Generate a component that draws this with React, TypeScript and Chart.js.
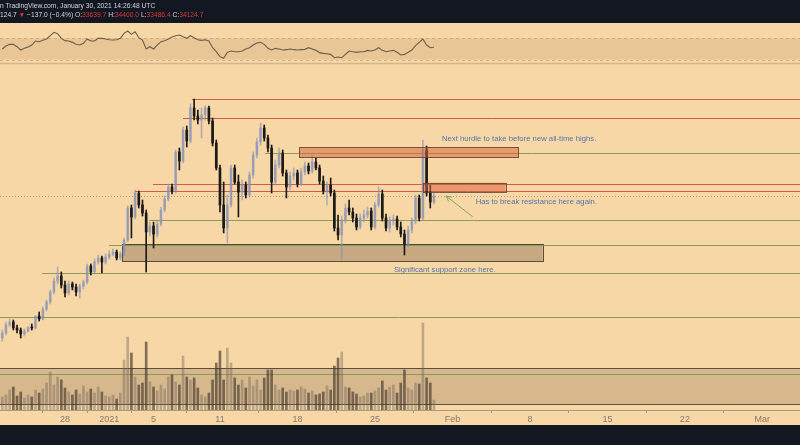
import React, { useEffect, useRef } from "react";
import { Chart, registerables } from "chart.js";

Chart.register(...registerables);

// ---- data: 8-hour bars, day offsets measured from 28 Dec 2020 ----
const FIRST_BAR_DAY = -17 / 3;
const BAR_STEP_DAYS = 1 / 3;

const OPEN = [
  22760, 23160, 23800, 24040, 23560, 23400, 23080, 23320, 23640, 23560, 24520, 24280, 25080, 25640, 26440, 27320, 27720,
  27000, 26360, 27080, 26840, 26440, 26920, 27240, 28520, 28040, 28840, 29160, 28840, 29240, 29480, 29640, 29160, 29480,
  30600, 33160, 32440, 34360, 33400, 32760, 31240, 31720, 31080, 31880, 33000, 33880, 34840, 34520, 37640, 36920, 39400,
  38520, 41160, 40520, 40200, 40600, 41160, 40120, 38360, 36360, 33400, 31560, 33400, 36360, 35240, 34440, 35000, 34200,
  35800, 37400, 38440, 39560, 38760, 37960, 35240, 36600, 37560, 35960, 34840, 35720, 35960, 35080, 36040, 36520, 36120,
  36840, 36360, 35320, 34520, 35000, 34360, 31560, 31000, 32200, 33160, 32840, 32360, 31640, 32360, 32600, 32920, 31640,
  33400, 34280, 32360, 31560, 32120, 32280, 31640, 31080, 30280, 31400, 32120, 33960, 32360, 37800, 34360, 33639.7,
];
const HIGH = [
  23400, 24040, 24280, 24200, 23800, 23560, 23480, 23640, 23880, 24520, 24840, 25240, 25800, 26600, 27560, 28440, 28040,
  27320, 27320, 27240, 27080, 27080, 27400, 28680, 28680, 29080, 29400, 29320, 29480, 29720, 29880, 29800, 29640, 30760,
  33320, 33400, 34600, 34520, 33800, 33000, 32040, 32040, 32200, 33240, 34120, 35080, 35080, 37800, 37960, 39640, 39720,
  41480, 41880, 41000, 41160, 41320, 41320, 40360, 38600, 36600, 35240, 34200, 36600, 36600, 35800, 35400, 35240, 36040,
  37640, 38760, 39960, 39800, 39000, 38200, 37000, 37960, 37800, 36200, 36040, 36360, 36200, 36360, 36840, 36760, 37400,
  37160, 36600, 35720, 35240, 35560, 34600, 32600, 32520, 33480, 33800, 33160, 32680, 32680, 33000, 33240, 33160, 33640,
  34840, 34600, 32680, 32440, 32600, 32520, 32040, 31400, 31720, 32360, 34200, 34200, 38600, 38120, 35000, 34400,
];
const LOW = [
  22520, 23000, 23640, 23400, 23160, 22760, 22920, 23240, 23400, 23480, 24120, 24200, 24920, 25480, 26280, 27080, 26760,
  26040, 26200, 26600, 26120, 25960, 26680, 27080, 27800, 27880, 28680, 27960, 28680, 29080, 29320, 29000, 29000, 29320,
  30440, 30760, 32280, 33160, 32520, 28040, 30920, 29960, 30840, 31720, 32840, 33720, 34280, 34360, 36200, 36760, 38040,
  38360, 40200, 39880, 38760, 40200, 39880, 38120, 36200, 32840, 31160, 30360, 33240, 35080, 32440, 33800, 33960, 34040,
  35560, 37160, 38200, 38520, 37640, 34360, 35000, 36360, 35720, 33960, 34600, 35400, 34840, 34920, 35800, 35880, 35960,
  36200, 35080, 34280, 33400, 34120, 31320, 30600, 29000, 31960, 32600, 32040, 31400, 31480, 32040, 32360, 31400, 31480,
  33240, 32120, 31320, 31240, 31800, 31400, 30840, 29400, 30040, 31160, 31880, 32120, 32200, 34120, 33160, 33486.4,
];
const CLOSE = [
  23160, 23800, 24040, 23560, 23400, 23080, 23320, 23640, 23560, 24520, 24280, 25080, 25640, 26440, 27320, 27720, 27000,
  26360, 27080, 26840, 26440, 26920, 27240, 28520, 28040, 28840, 29160, 28840, 29240, 29480, 29640, 29160, 29480, 30600,
  33160, 32440, 34360, 33400, 32760, 31240, 31720, 31080, 31880, 33000, 33880, 34840, 34520, 37640, 36920, 39400, 38520,
  41160, 40520, 40200, 40600, 41160, 40120, 38360, 36360, 33400, 31560, 33400, 36360, 35240, 34440, 35000, 34200, 35800,
  37400, 38440, 39560, 38760, 37960, 35240, 36600, 37560, 35960, 34840, 35720, 35960, 35080, 36040, 36520, 36120, 36840,
  36360, 35320, 34520, 35000, 34360, 31560, 31000, 32200, 33160, 32840, 32360, 31640, 32360, 32600, 32920, 31640, 33400,
  34280, 32360, 31560, 32120, 32280, 31640, 31080, 30280, 31400, 32120, 33960, 32360, 37800, 34360, 33639.7, 34124.7,
];
const VOLUME = [
  1300, 1500, 2000, 2300, 1400, 1800, 1200, 1500, 1300, 2000, 1700, 2100, 2700, 3800, 2500, 3300, 3000,
  2200, 1800, 1500, 2000, 1600, 2400, 1800, 2100, 1700, 2300, 1800, 1400, 1300, 1500, 1100, 1700, 5000,
  7300, 5700, 3300, 2500, 2700, 6800, 2800, 2300, 1900, 2500, 2100, 3300, 3500, 2800, 2500, 5400, 3300,
  3000, 3200, 2200, 1500, 1300, 1700, 3000, 4700, 5900, 3000, 6200, 4700, 3200, 2500, 3000, 2200, 3300,
  2400, 3000, 2000, 3200, 4000, 4000, 2500, 2000, 2200, 1800, 2000, 1900, 2000, 2300, 2100, 1700, 1900,
  1500, 1600, 1800, 2400, 2000, 4400, 5200, 5800, 2300, 2200, 1800, 1600, 1300, 1400, 1700, 1700, 1900,
  2200, 2900, 2000, 2300, 2500, 1700, 2700, 4000, 2200, 2000, 2700, 2600, 8700, 3200, 2700, 1000,
];
const RSI = [
  50, 55.6, 58.7, 58.7, 54.3, 48.1, 51.2, 53.7, 57.4, 64.9, 63.7, 66.2, 68.7, 74.9, 81.2, 78.7, 69.9,
  65.6, 64.9, 62.4, 58.7, 57.4, 60.6, 68.7, 64.9, 64.9, 69.9, 69.9, 68.7, 67.4, 66.8, 67.4, 69.9, 79.3,
  83.7, 77.4, 82.4, 71.2, 66.8, 50, 54.3, 50, 57.4, 63.7, 65.6, 68.7, 72.4, 74.9, 76.2, 73.1, 69.9,
  74.9, 71.2, 67.4, 66.2, 67.4, 64.9, 52.4, 44.9, 35.6, 32.4, 43.7, 46.2, 44.9, 44.9, 46.2, 50, 52.4,
  57.4, 61.2, 62.4, 58.7, 51.2, 48.1, 51.2, 50, 48.1, 48.7, 50, 48.7, 48.1, 48.7, 49.3, 52.4, 50,
  47.4, 43.1, 41.8, 41.2, 39.9, 33.7, 35, 33.7, 39.9, 46.2, 44.9, 43.7, 44.9, 44.9, 47.4, 46.2, 48.1,
  52.4, 47.4, 44.9, 46.2, 47.4, 43.7, 38.7, 39.9, 43.7, 48.1, 56.2, 62.4, 68.7, 57.4, 52.4, 53.1,
];

const TICK_DAYS = [0, 4, 8, 14, 21, 28, 35, 42, 49, 56, 63];
const TICK_LABELS = ["28", "2021", "5", "11", "18", "25", "Feb", "8", "15", "22", "Mar"];

const LAST_PRICE = 34124.7;
const RSI_UPPER = 70;
const RSI_LOWER = 30;

// horizontal levels: start day, price
const RED_LEVEL_PRICES = [41880, 40340, 35080, 34500];
const RED_LEVEL_STARTS = [11.47, 10.66, 7.95, 6.32];
const GREEN_LEVEL_PRICES = [37600, 32240, 30200, 27940, 24420, 19900];
const GREEN_LEVEL_STARTS = [18.07, 7.59, 3.97, -2.08, -6, -6];

// zones: [startDay, endDay, topPrice, bottomPrice]
const SUPPORT_ZONE = [5.15, 43.15, 30256, 28920];
const HURDLE_ZONE = [21.17, 40.98, 38016, 37184];
const RESIST_ZONE = [32.31, 39.81, 35184, 34496];
const VOLUME_ZONE = [-10, 80, 20336, 17456];

// notes: [day, price, text]
const NOTE_DAYS = [34.06, 37.1, 29.72];
const NOTE_PRICES = [38656, 33640, 28200];
const NOTE_TEXTS = [
  "Next hurdle to take before new all-time highs.",
  "Has to break resistance here again.",
  "Significant support zone here.",
];
const ARROW_FROM = [36.83, 32464];
const ARROW_TO = [34.42, 34120];

// ---- layout / style ----
const W = 800;
const H = 445;
const PANE_TOP = 23;
const PANE_BOTTOM = 425;
const RSI_PANE_SEPARATOR = 63.5;
const PEACH = "#f8d7a6";
const DARK = "#131722";
const NOTE_FONT = '7.7px "Liberation Sans", Arial, sans-serif';

const barDays = CLOSE.map((_, i) => FIRST_BAR_DAY + i * BAR_STEP_DAYS);
const isUp = CLOSE.map((c, i) => c >= OPEN[i]);

const drawZone = (ctx: any, x: any, yp: any, z: number[], fill: string, stroke: string) => {
  const x0 = x.getPixelForValue(z[0]);
  const x1 = x.getPixelForValue(z[1]);
  const y0 = yp.getPixelForValue(z[2]);
  const y1 = yp.getPixelForValue(z[3]);
  ctx.fillStyle = fill;
  ctx.fillRect(x0, y0, x1 - x0, y1 - y0);
  ctx.strokeStyle = stroke;
  ctx.lineWidth = 1;
  ctx.strokeRect(Math.round(x0) + 0.5, Math.round(y0) + 0.5, Math.round(x1 - x0), Math.round(y1 - y0));
};

const overlayPlugin = {
  id: "overlay",
  beforeDraw(chart: any) {
    const ctx = chart.ctx;
    ctx.save();
    ctx.fillStyle = PEACH;
    ctx.fillRect(0, PANE_TOP, W, PANE_BOTTOM - PANE_TOP);
    ctx.restore();
  },
  beforeDatasetsDraw(chart: any) {
    const ctx = chart.ctx;
    const x = chart.scales.x;
    const yp = chart.scales.yPrice;
    const yr = chart.scales.yRsi;
    const ca = chart.chartArea;
    ctx.save();
    // RSI band
    const r1 = yr.getPixelForValue(RSI_UPPER);
    const r2 = yr.getPixelForValue(RSI_LOWER);
    ctx.fillStyle = "rgba(200,160,110,0.30)";
    ctx.fillRect(0, r1, W, r2 - r1);
    ctx.strokeStyle = "rgba(190,150,110,0.55)";
    ctx.lineWidth = 1;
    ctx.setLineDash([3, 3]);
    [r1, r2].forEach((py) => {
      ctx.beginPath();
      ctx.moveTo(0, Math.round(py) + 0.5);
      ctx.lineTo(W, Math.round(py) + 0.5);
      ctx.stroke();
    });
    ctx.setLineDash([]);
    // pane separator
    ctx.strokeStyle = "#d2b690";
    ctx.lineWidth = 1.5;
    ctx.beginPath();
    ctx.moveTo(0, RSI_PANE_SEPARATOR);
    ctx.lineTo(W, RSI_PANE_SEPARATOR);
    ctx.stroke();

    // clip to main pane
    ctx.beginPath();
    ctx.rect(0, RSI_PANE_SEPARATOR + 1, W, ca.bottom - RSI_PANE_SEPARATOR - 1);
    ctx.clip();

    drawZone(ctx, x, yp, VOLUME_ZONE, "rgba(140,110,80,0.30)", "rgba(70,60,50,0.85)");
    drawZone(ctx, x, yp, SUPPORT_ZONE, "rgba(120,95,70,0.38)", "rgba(60,55,45,0.85)");

    const level = (start: number, price: number, color: string) => {
      const py = Math.round(yp.getPixelForValue(price)) + 0.5;
      ctx.strokeStyle = color;
      ctx.lineWidth = 1;
      ctx.beginPath();
      ctx.moveTo(x.getPixelForValue(start), py);
      ctx.lineTo(W, py);
      ctx.stroke();
    };
    RED_LEVEL_PRICES.forEach((p, i) => level(RED_LEVEL_STARTS[i], p, "rgba(205,80,60,0.9)"));
    GREEN_LEVEL_PRICES.forEach((p, i) => level(GREEN_LEVEL_STARTS[i], p, "rgba(130,150,80,0.9)"));

    // last price dotted line
    const lp = Math.round(yp.getPixelForValue(LAST_PRICE)) + 0.5;
    ctx.strokeStyle = "rgba(150,140,130,0.8)";
    ctx.setLineDash([1, 2]);
    ctx.beginPath();
    ctx.moveTo(0, lp);
    ctx.lineTo(W, lp);
    ctx.stroke();
    ctx.setLineDash([]);
    ctx.restore();
  },
  afterDatasetsDraw(chart: any) {
    const ctx = chart.ctx;
    const x = chart.scales.x;
    const yp = chart.scales.yPrice;
    ctx.save();
    drawZone(ctx, x, yp, HURDLE_ZONE, "rgba(212,100,62,0.52)", "rgba(90,60,50,0.8)");
    drawZone(ctx, x, yp, RESIST_ZONE, "rgba(212,100,62,0.52)", "rgba(90,60,50,0.8)");

    // notes
    ctx.font = NOTE_FONT;
    ctx.fillStyle = "#5474ac";
    ctx.textBaseline = "middle";
    ctx.textAlign = "left";
    NOTE_TEXTS.forEach((t, i) => {
      ctx.fillText(t, x.getPixelForValue(NOTE_DAYS[i]), yp.getPixelForValue(NOTE_PRICES[i]));
    });

    // arrow
    const ax0 = x.getPixelForValue(ARROW_FROM[0]);
    const ay0 = yp.getPixelForValue(ARROW_FROM[1]);
    const ax1 = x.getPixelForValue(ARROW_TO[0]);
    const ay1 = yp.getPixelForValue(ARROW_TO[1]);
    ctx.strokeStyle = "#86a55a";
    ctx.lineWidth = 1;
    ctx.beginPath();
    ctx.moveTo(ax0, ay0);
    ctx.lineTo(ax1, ay1);
    const ang = Math.atan2(ay1 - ay0, ax1 - ax0);
    const hl = 6;
    ctx.moveTo(ax1, ay1);
    ctx.lineTo(ax1 - hl * Math.cos(ang - 0.45), ay1 - hl * Math.sin(ang - 0.45));
    ctx.moveTo(ax1, ay1);
    ctx.lineTo(ax1 - hl * Math.cos(ang + 0.45), ay1 - hl * Math.sin(ang + 0.45));
    ctx.stroke();
    ctx.restore();
  },
};

const BULL = "rgba(130,145,185,0.62)";
const BEAR = "#1c1a18";
const VOL_BULL = "rgba(110,100,90,0.42)";
const VOL_BEAR = "rgba(65,55,45,0.65)";

function TradingChart() {
  const ref = useRef<HTMLCanvasElement | null>(null);
  useEffect(() => {
    if (!ref.current) return;
    const chart = new Chart(ref.current, {
      type: "bar",
      data: {
        datasets: [
          {
            type: "line",
            label: "RSI",
            yAxisID: "yRsi",
            data: RSI.map((v, i) => ({ x: barDays[i], y: v })),
            borderColor: "#6a5e4c",
            borderWidth: 1.1,
            pointRadius: 0,
            tension: 0,
            order: 0,
          } as any,
          {
            type: "bar",
            label: "body",
            yAxisID: "yPrice",
            grouped: false,
            data: OPEN.map((o, i) => ({ x: barDays[i], y: [o, CLOSE[i]] })),
            backgroundColor: isUp.map((u) => (u ? BULL : BEAR)),
            borderWidth: 0,
            barThickness: 2,
            minBarLength: 1,
            order: 1,
          } as any,
          {
            type: "bar",
            label: "wick",
            yAxisID: "yPrice",
            grouped: false,
            data: LOW.map((l, i) => ({ x: barDays[i], y: [l, HIGH[i]] })),
            backgroundColor: isUp.map((u) => (u ? BULL : BEAR)),
            borderWidth: 0,
            barThickness: 1,
            order: 2,
          } as any,
          {
            type: "bar",
            label: "volume",
            yAxisID: "yVol",
            grouped: false,
            data: VOLUME.map((v, i) => ({ x: barDays[i], y: v })),
            backgroundColor: isUp.map((u) => (u ? VOL_BULL : VOL_BEAR)),
            borderWidth: 0,
            barThickness: 2,
            order: 3,
          } as any,
        ],
      },
      options: {
        responsive: false,
        animation: false,
        events: [],
        layout: { padding: { top: PANE_TOP, bottom: H - PANE_BOTTOM, left: 0, right: 0 } },
        plugins: { legend: { display: false }, tooltip: { enabled: false } },
        scales: {
          x: {
            type: "linear",
            min: -5.872,
            max: 66.4,
            offset: false,
            grid: { drawOnChartArea: false, drawTicks: true, tickLength: 3, color: "#a49682" },
            border: { display: true, color: "#a99a86", width: 1 },
            ticks: {
              color: "#85796a",
              font: { size: 9, family: '"Liberation Sans", Arial, sans-serif' },
              padding: 1,
              autoSkip: false,
              maxRotation: 0,
              callback: (v: any) => {
                const idx = TICK_DAYS.indexOf(Number(v));
                return idx >= 0 ? TICK_LABELS[idx] : "";
              },
            },
            afterBuildTicks: (s: any) => {
              s.ticks = TICK_DAYS.map((v) => ({ value: v }));
            },
            afterFit: (s: any) => {
              s.height = 15;
            },
          } as any,
          yPrice: { type: "linear", display: false, min: 17000, max: 47960 },
          yVol: { type: "linear", display: false, min: 0, max: 38700 },
          yRsi: { type: "linear", display: false, min: -626.8, max: 98.7 },
        },
      } as any,
      plugins: [overlayPlugin],
    });
    return () => chart.destroy();
  }, []);
  return <canvas ref={ref} width={W} height={H} style={{ position: "absolute", left: 0, top: 0, width: W, height: H }} />;
}

const HEAD_FONT = '"Liberation Sans", Arial, sans-serif';
const RED = "#d83a35";

export default function App() {
  return (
    <div style={{ position: "fixed", left: 0, top: 0, width: W, height: H, background: DARK, overflow: "hidden" }}>
      <TradingChart />
      <div style={{ position: "absolute", left: 0, top: 1, fontFamily: HEAD_FONT, fontSize: 6.7, lineHeight: "10px", color: "#d1d4dc", whiteSpace: "nowrap" }}>
        n TradingView.com, January 30, 2021 14:26:48 UTC
      </div>
      <div style={{ position: "absolute", left: 0, top: 10, fontFamily: HEAD_FONT, fontSize: 6.7, lineHeight: "10px", color: "#d1d4dc", whiteSpace: "nowrap" }}>
        124.7 <span style={{ color: RED }}>▼</span> −137.0 (−0.4%) O:<span style={{ color: RED }}>33639.7</span> H:<span style={{ color: RED }}>34400.0</span> L:<span style={{ color: RED }}>33486.4</span> C:<span style={{ color: RED }}>34124.7</span>
      </div>
    </div>
  );
}
